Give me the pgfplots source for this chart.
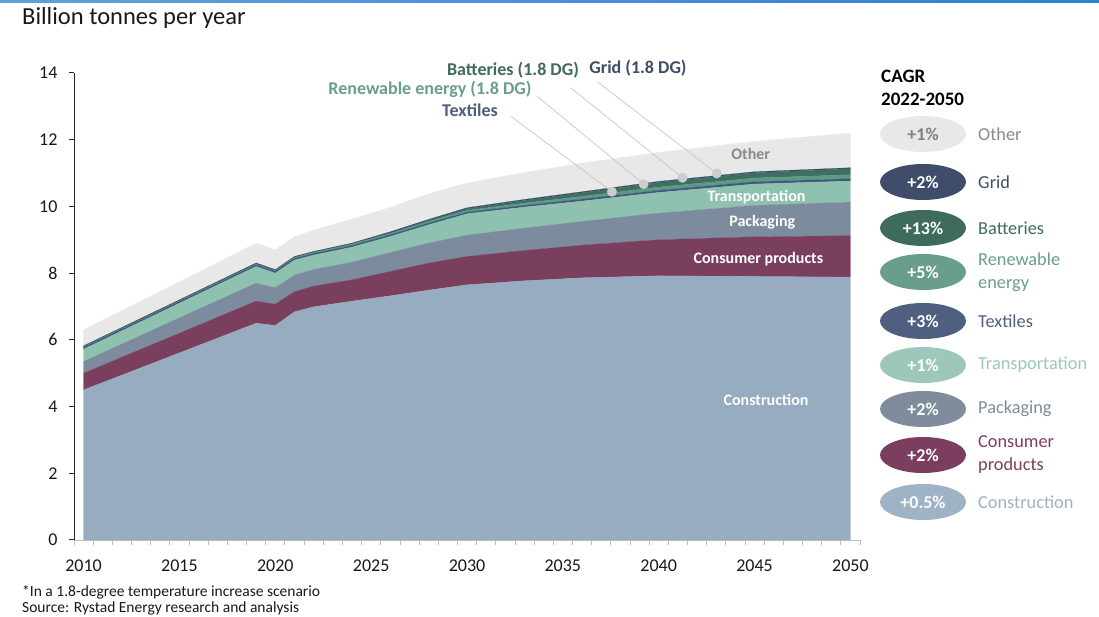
\documentclass[border=0pt]{standalone}
\usepackage{pgfplots}
\pgfplotsset{compat=1.18}
\usepackage{pgfplotstable}
\usepackage{fontspec}
\setmainfont{Carlito}

\definecolor{cConst}{HTML}{97ACC0}
\definecolor{cCons}{HTML}{7B3F5E}
\definecolor{cPack}{HTML}{7C8B9D}
\definecolor{cTrans}{HTML}{8FC1B1}
\definecolor{cText}{HTML}{44577C}
\definecolor{cRen}{HTML}{5A9A86}
\definecolor{cBat}{HTML}{3E6F60}
\definecolor{cGrid}{HTML}{35476A}
\definecolor{cOther}{HTML}{E8E8E8}
\definecolor{tOther}{HTML}{8A8A8A}
\definecolor{tGrid}{HTML}{3F4D6B}
\definecolor{tBat}{HTML}{3F6B5D}
\definecolor{tRen}{HTML}{6A9E8C}
\definecolor{tText}{HTML}{4F5F7F}
\definecolor{tTrans}{HTML}{9CC7BA}
\definecolor{tPack}{HTML}{7E8C9C}
\definecolor{tCons}{HTML}{7C3E5E}
\definecolor{tConst}{HTML}{9FB3C6}
\definecolor{topbar}{HTML}{2F80D2}

% year, Construction, Consumer products, Packaging, Transportation,
% Textiles, Renewable energy, Batteries, Grid, Other
\pgfplotstableread{
year C P K T X R B G O
2010 4.50 0.50 0.35 0.37 0.05 0.02 0.000 0.03 0.48
2015 5.61 0.59 0.46 0.44 0.05 0.02 0.000 0.03 0.54
2019 6.50 0.66 0.54 0.50 0.05 0.02 0.005 0.03 0.595
2020 6.43 0.64 0.49 0.44 0.05 0.02 0.005 0.03 0.595
2021 6.84 0.60 0.50 0.45 0.05 0.03 0.010 0.02 0.59
2022 6.99 0.62 0.50 0.43 0.05 0.03 0.010 0.02 0.64
2024 7.16 0.64 0.53 0.45 0.05 0.04 0.010 0.02 0.72
2026 7.32 0.73 0.57 0.48 0.05 0.04 0.020 0.03 0.73
2028 7.49 0.81 0.60 0.55 0.05 0.05 0.030 0.03 0.77
2030 7.65 0.85 0.64 0.64 0.05 0.05 0.050 0.03 0.74
2033 7.77 0.91 0.67 0.63 0.05 0.07 0.080 0.03 0.81
2036 7.86 0.98 0.71 0.61 0.06 0.08 0.110 0.03 0.86
2040 7.92 1.08 0.80 0.62 0.06 0.10 0.140 0.03 0.87
2045 7.90 1.19 0.94 0.64 0.07 0.11 0.160 0.03 0.91
2050 7.88 1.24 1.01 0.63 0.07 0.12 0.180 0.03 1.04
}\data

\begin{document}
\begin{tikzpicture}[x=1pt,y=1pt]
\useasboundingbox (0,0) rectangle (1099,617);
\fill[white] (0,0) rectangle (1099,617);
\shade[left color=topbar!75!white, right color=topbar] (0,614) rectangle (1099,617);

\begin{axis}[
  at={(74pt,77pt)}, anchor=south west,
  scale only axis, width=786pt, height=467pt,
  xmin=2009.5, xmax=2050.5, ymin=0, ymax=14,
  axis x line*=bottom, axis y line*=left,
  x axis line style={draw=black!25, line width=0.8pt},
  y axis line style={draw=black!85, line width=1pt},
  xtick={2010,2015,...,2050},
  minor xtick={2009.5,2010.5,...,2050.5},
  ytick={0,2,...,14},
  tick align=outside,
  major tick length=5pt, minor tick length=5pt,
  xtick style={draw=none},
  minor x tick style={draw=black!25, line width=0.8pt},
  ytick style={draw=black!85, line width=1pt},
  /pgf/number format/assume math mode=true,
  /pgf/number format/1000 sep={},
  xticklabel style={font=\fontsize{18}{18}\selectfont, text=black!90, yshift=-11pt},
  yticklabel style={font=\fontsize{18}{18}\selectfont, text=black!90, xshift=-8pt},
  stack plots=y,
  clip=false,
]
\addplot[fill=cConst, draw=cConst, line width=0.2pt] table[x=year,y=C] {\data} \closedcycle;
\addplot[fill=cCons, draw=cCons, line width=0.2pt] table[x=year,y=P] {\data} \closedcycle;
\addplot[fill=cPack, draw=cPack, line width=0.2pt] table[x=year,y=K] {\data} \closedcycle;
\addplot[fill=cTrans, draw=cTrans, line width=0.2pt] table[x=year,y=T] {\data} \closedcycle;
\addplot[fill=cText, draw=cText, line width=0.2pt] table[x=year,y=X] {\data} \closedcycle;
\addplot[fill=cRen, draw=cRen, line width=0.2pt] table[x=year,y=R] {\data} \closedcycle;
\addplot[fill=cBat, draw=cBat, line width=0.2pt] table[x=year,y=B] {\data} \closedcycle;
\addplot[fill=cGrid, draw=cGrid, line width=0.2pt] table[x=year,y=G] {\data} \closedcycle;
\addplot[fill=cOther, draw=cOther, line width=0.2pt] table[x=year,y=O] {\data} \closedcycle;

% anchor positions (axis units) for labels and leader lines
\coordinate (lOther) at (axis cs:2044.8,11.57);
\coordinate (lTrans) at (axis cs:2045.1,10.28);
\coordinate (lPack)  at (axis cs:2045.4,9.53);
\coordinate (lCons)  at (axis cs:2045.2,8.42);
\coordinate (lConst) at (axis cs:2045.6,4.2);
\coordinate (s1) at (axis cs:2032.27,12.71);
\coordinate (s2) at (axis cs:2033.66,13.30);
\coordinate (s3) at (axis cs:2035.40,13.56);
\coordinate (s4) at (axis cs:2036.81,13.73);
\coordinate (d1) at (axis cs:2037.56,10.44);
\coordinate (d2) at (axis cs:2039.21,10.67);
\coordinate (d3) at (axis cs:2041.24,10.86);
\coordinate (d4) at (axis cs:2043.03,10.99);
\end{axis}

% in-chart labels
\node[font=\bfseries\fontsize{16}{16}\selectfont, text=tOther] at (lOther) {Other};
\node[font=\bfseries\fontsize{16}{16}\selectfont, text=white] at (lTrans) {Transportation};
\node[font=\bfseries\fontsize{16}{16}\selectfont, text=white] at (lPack) {Packaging};
\node[font=\bfseries\fontsize{16}{16}\selectfont, text=white] at (lCons) {Consumer products};
\node[font=\bfseries\fontsize{16}{16}\selectfont, text=white] at (lConst) {Construction};

% leader lines and dots
\draw[black!22, line width=0.7pt] (s1) -- (d1);
\draw[black!22, line width=0.7pt] (s2) -- (d2);
\draw[black!22, line width=0.7pt] (s3) -- (d3);
\draw[black!22, line width=0.7pt] (s4) -- (d4);
\fill[black!20] (d1) circle[radius=5];
\fill[black!20] (d2) circle[radius=5];
\fill[black!20] (d3) circle[radius=5];
\fill[black!20] (d4) circle[radius=5];

% title and notes
\node[anchor=west, font=\fontsize{24.5}{24.5}\selectfont, text=black!90, inner sep=0pt] at (22,599) {Billion tonnes per year};
\node[anchor=west, font=\fontsize{15.5}{15.5}\selectfont, text=black!90, inner sep=0pt] at (22,25) {*In a 1.8-degree temperature increase scenario};
\node[anchor=west, font=\fontsize{15.5}{15.5}\selectfont, text=black!90, inner sep=0pt] at (22,9) {Source: Rystad Energy research and analysis};

% annotations above the chart
\node[font=\bfseries\fontsize{18}{18}\selectfont, text=tGrid, inner sep=0pt] at (638,549) {Grid (1.8 DG)};
\node[font=\bfseries\fontsize{18}{18}\selectfont, text=tBat, inner sep=0pt] at (513,547) {Batteries (1.8 DG)};
\node[font=\bfseries\fontsize{18}{18}\selectfont, text=tRen, inner sep=0pt] at (430,528) {Renewable energy (1.8 DG)};
\node[font=\bfseries\fontsize{18}{18}\selectfont, text=tText, inner sep=0pt] at (470,507) {Textiles};

% CAGR legend
\node[anchor=west, font=\bfseries\fontsize{19}{19}\selectfont, inner sep=0pt] at (881,541) {CAGR};
\node[anchor=west, font=\bfseries\fontsize{19}{19}\selectfont, inner sep=0pt] at (881,518) {2022-2050};

\def\legitem#1#2#3#4#5{%
  \fill[#1] (923,#2) ellipse[x radius=43, y radius=18];
  \node[font=\bfseries\fontsize{18}{18}\selectfont, text=#3] at (923,#2) {#4};
  \node[anchor=west, align=left, font=\fontsize{18.3}{23}\selectfont, text=#1, inner sep=0pt] at (978,#2) {#5};
}
\legitem{cOther}{483}{black!50}{+1\%}{}
\node[anchor=west, font=\fontsize{18.3}{23}\selectfont, text=tOther, inner sep=0pt] at (978,483) {Other};
\legitem{tGrid}{435}{white}{+2\%}{Grid}
\legitem{tBat}{389}{white}{+13\%}{Batteries}
\legitem{tRen}{345}{white}{+5\%}{Renewable\\energy}
\legitem{tText}{296}{white}{+3\%}{Textiles}
\legitem{tTrans}{252}{white}{+1\%}{Transportation}
\legitem{tPack}{208}{white}{+2\%}{Packaging}
\legitem{tCons}{162}{white}{+2\%}{Consumer\\products}
\legitem{tConst}{115}{white}{+0.5\%}{Construction}
\end{tikzpicture}
\end{document}
